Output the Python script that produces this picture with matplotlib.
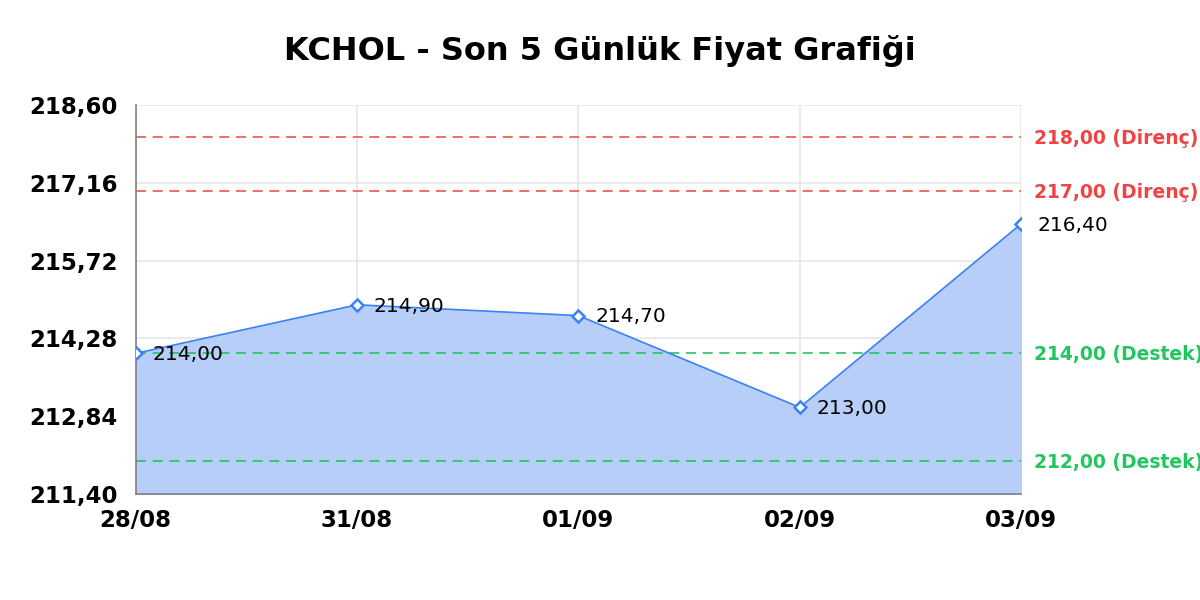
import matplotlib
matplotlib.use('Agg')
import matplotlib.pyplot as plt
import numpy as np

# veriler
dates = ['28/08', '31/08', '01/09', '02/09', '03/09']
prices = [214.00, 214.90, 214.70, 213.00, 216.40]
resistance = [218.00, 217.00]
support = [214.00, 212.00]
y_ticks = [211.40, 212.84, 214.28, 215.72, 217.16, 218.60]

def tr(v):
    return f'{v:.2f}'.replace('.', ',')

fig = plt.figure(figsize=(12, 6), dpi=100)
ax = fig.add_axes([0.113, 0.177, 0.738, 0.648])

x = np.arange(len(dates))
ax.fill_between(x, prices, y_ticks[0], color='#b7cff8', zorder=1)
ax.plot(x, prices, color='#3b82f6', lw=1.2, zorder=3)
ax.plot(x, prices, ls='none', marker='D', ms=6.5, mfc='white', mec='#3b82f6', mew=1.8, zorder=4)

for xi, p in zip(x, prices):
    ax.annotate(tr(p), (xi, p), xytext=(12, -1), textcoords='offset points',
                va='center', ha='left', fontsize=14.5, color='black', zorder=5)

for r in resistance:
    ax.axhline(r, color='#ef5350', ls=(0, (6, 4)), lw=1.2, zorder=2)
    ax.annotate(tr(r) + ' (Direnç)', (1, r), xycoords=('axes fraction', 'data'),
                xytext=(9, -1), textcoords='offset points', va='center', ha='left',
                fontsize=13.5, fontweight='bold', color='#ef4444', annotation_clip=False)
for s in support:
    ax.axhline(s, color='#22c55e', ls=(0, (6, 4)), lw=1.2, zorder=2)
    ax.annotate(tr(s) + ' (Destek)', (1, s), xycoords=('axes fraction', 'data'),
                xytext=(9, -1), textcoords='offset points', va='center', ha='left',
                fontsize=13.5, fontweight='bold', color='#22c55e', annotation_clip=False)

ax.set_xlim(0, len(dates) - 1)
ax.set_ylim(y_ticks[0], y_ticks[-1])
ax.set_xticks(x)
ax.set_xticklabels(dates, fontsize=16.5, fontweight='bold')
ax.set_yticks(y_ticks)
ax.set_yticklabels([tr(t) for t in y_ticks], fontsize=16.5, fontweight='bold')
ax.tick_params(length=0)
ax.tick_params(axis='y', pad=13)
ax.tick_params(axis='x', pad=11)
ax.grid(True, color='#e6e6e6', lw=1.2, zorder=0)
ax.set_axisbelow(True)
for side in ['top', 'right']:
    ax.spines[side].set_visible(False)
for side in ['left', 'bottom']:
    ax.spines[side].set_color('#808080')
    ax.spines[side].set_linewidth(1.2)

fig.suptitle('KCHOL - Son 5 Günlük Fiyat Grafiği', fontsize=23, fontweight='bold', y=0.942)

fig.savefig('out.png', dpi=100)
